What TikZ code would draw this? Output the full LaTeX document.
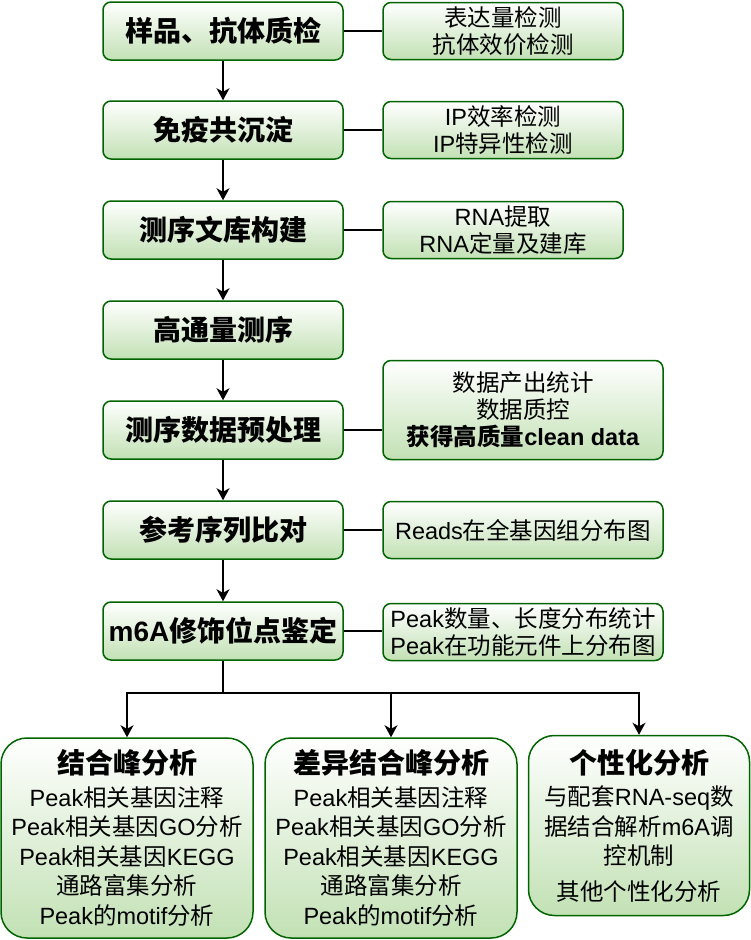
\documentclass[tikz,border=0pt]{standalone}
\usepackage{fontspec}
\setmainfont{Noto Sans CJK SC}
\newfontfamily\latf{Liberation Sans}
\newcommand{\la}[1]{{\latf #1}}
\usetikzlibrary{arrows.meta}
\definecolor{edge}{RGB}{0,100,0}
\definecolor{leaf}{RGB}{194,225,180}
\tikzset{
  box/.style={draw=edge, line width=1.5pt, top color=white, bottom color=leaf,
    inner sep=0pt, align=center, text=black},
  stage/.style={box, rounded corners=8pt, minimum width=240pt, minimum height=58pt,
    font=\fontsize{28}{30}\selectfont\bfseries},
  note/.style={box, rounded corners=8pt, minimum height=57pt,
    font=\fontsize{23.5}{27}\selectfont},
  result/.style={box, rounded corners=26pt, font=\fontsize{23.5}{29.5}\selectfont},
  link/.style={line width=1.4pt, black},
  flow/.style={link, -{Stealth[length=12pt, width=13pt, inset=3.5pt]}}
}
\newcommand{\headline}[1]{{\fontsize{28}{30}\selectfont\bfseries #1}}
\begin{document}
\begin{tikzpicture}[x=1pt, y=-1pt]
\useasboundingbox (0,0) rectangle (750,940);
% main pipeline
\node[stage] (s1) at (223,31)  {样品、抗体质检};
\node[stage] (s2) at (223,130) {免疫共沉淀};
\node[stage] (s3) at (223,230) {测序文库构建};
\node[stage] (s4) at (223,330) {高通量测序};
\node[stage] (s5) at (223,430) {测序数据预处理};
\node[stage] (s6) at (223,530) {参考序列比对};
\node[stage] (s7) at (223,631) {\la{m6A}修饰位点鉴定};
% side notes
\node[note, minimum width=240pt] (n1) at (503,31)  {表达量检测\\抗体效价检测};
\node[note, minimum width=240pt] (n2) at (503,130) {\la{IP}效率检测\\\la{IP}特异性检测};
\node[note, minimum width=240pt] (n3) at (503,230) {\la{RNA}提取\\\la{RNA}定量及建库};
\node[note, minimum width=280pt, minimum height=99pt] (n5) at (523,410)
  {数据产出统计\\数据质控\\{\bfseries 获得高质量\la{clean data}}};
\node[note, minimum width=280pt] (n6) at (523,530) {\la{Reads}在全基因组分布图};
\node[note, minimum width=280pt] (n7) at (523,632)
  {\la{Peak}数量、长度分布统计\\\la{Peak}在功能元件上分布图};
% analysis branches
\node[result, minimum width=252pt, minimum height=200pt] (a1) at (127,838)
  {\headline{结合峰分析}\\[3pt]\la{Peak}相关基因注释\\\la{Peak}相关基因\la{GO}分析\\
   \la{Peak}相关基因\la{KEGG}\\通路富集分析\\\la{Peak}的\la{motif}分析};
\node[result, minimum width=252pt, minimum height=200pt] (a2) at (391,838)
  {\headline{差异结合峰分析}\\[3pt]\la{Peak}相关基因注释\\\la{Peak}相关基因\la{GO}分析\\
   \la{Peak}相关基因\la{KEGG}\\通路富集分析\\\la{Peak}的\la{motif}分析};
\node[result, minimum width=221pt, minimum height=180pt] (a3) at (639,825.5)
  {\headline{个性化分析}\\[3pt]与配套\la{RNA-seq}数\\据结合解析\la{m6A}调\\控机制\\[6pt]其他个性化分析};
% pipeline arrows
\foreach \a/\b in {s1/s2,s2/s3,s3/s4,s4/s5,s5/s6,s6/s7}
  \draw[flow] (\a.south) -- (\b.north);
% links to side notes
\foreach \a/\b in {s1/n1,s2/n2,s3/n3,s5/n5,s6/n6,s7/n7}
  \draw[link] (\a.east) -- (\a.east -| \b.west);
% branching to analyses
\coordinate (fork) at (223,693);
\draw[link] (s7.south) -- (fork);
\draw[flow] (fork) -| (a1.north);
\draw[flow] (fork) -| (a2.north);
\draw[flow] (fork) -| (a3.north);
\end{tikzpicture}
\end{document}
